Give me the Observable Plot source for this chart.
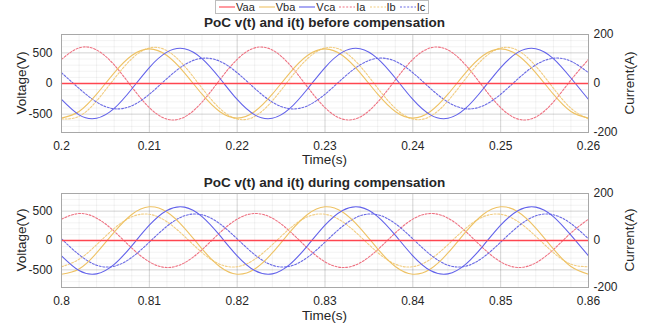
<!DOCTYPE html>
<html><head><meta charset="utf-8">
<script src="https://cdn.jsdelivr.net/npm/d3@7"></script>
<script src="https://cdn.jsdelivr.net/npm/@observablehq/plot@0.6"></script>
<style>
body{margin:0;background:#fff;}
#wrap{position:relative;width:655px;height:328px;font-family:"Liberation Sans",Arial,sans-serif;overflow:hidden;background:#fff;color:#262626;}
.lbl{position:absolute;white-space:nowrap;line-height:1;transform:translate(-50%,-50%);}
.rot{transform:translate(-50%,-50%) rotate(-90deg);}
.ttl{font-weight:bold;font-size:13.5px;}
.ax{font-size:13.5px;}
.svgp{position:absolute;left:0;}
#legend{position:absolute;left:215px;top:0;height:12px;border:1px solid #bdbdbd;background:#fff;display:flex;align-items:center;padding:0 3px;font-size:11px;line-height:1;}
#legend .it{display:flex;align-items:center;margin-right:4px;}
#legend .it:last-child{margin-right:0;}
#legend svg{margin-right:1px;}
</style></head>
<body><div id="wrap"></div>
<script>
// ---------- data ----------
const seriesNames = ["Vaa", "Vba", "Vca", "Ia", "Ib", "Ic"];
const panelTitles = ["PoC v(t) and i(t) before compensation", "PoC v(t) and i(t) during compensation"];

const tTop = [0.200,0.202,0.204,0.206,0.208,0.210,0.212,0.214,0.216,0.218,0.220,0.222,0.224,0.226,0.228,0.230,0.232,0.234,0.236,0.238,0.240,0.242,0.244,0.246,0.248,0.250,0.252,0.254,0.256,0.258,0.260];
const tBot = [0.800,0.802,0.804,0.806,0.808,0.810,0.812,0.814,0.816,0.818,0.820,0.822,0.824,0.826,0.828,0.830,0.832,0.834,0.836,0.838,0.840,0.842,0.844,0.846,0.848,0.850,0.852,0.854,0.856,0.858,0.860];

const xTicksTop = [0.20,0.21,0.22,0.23,0.24,0.25,0.26];
const xLabelsTop = ["0.2","0.21","0.22","0.23","0.24","0.25","0.26"];
const xTicksBot = [0.80,0.81,0.82,0.83,0.84,0.85,0.86];
const xLabelsBot = ["0.8","0.81","0.82","0.83","0.84","0.85","0.86"];
const vTicks = [-500, 0, 500];
const vLabels = ["-500", "0", "500"];
const iTicks = [-200, 0, 200];
const iLabels = ["-200", "0", "200"];

// before compensation (V and A)
const vaaTop = [0,0,0,0,0,0,0,0,0,0,0,0,0,0,0,0,0,0,0,0,0,0,0,0,0,0,0,0,0,0,0];
const vbaTop = [-565,-457,-175,175,457,565,457,175,-175,-457,-565,-457,-175,175,457,565,457,175,-175,-457,-565,-457,-175,175,457,565,457,175,-175,-457,-565];
const vcaTop = [-261,-512,-568,-407,-90,261,512,568,407,90,-261,-512,-568,-407,-90,261,512,568,407,90,-261,-512,-568,-407,-90,261,512,568,407,90,-261];
const iaTop = [98.5,145.4,136.8,75.8,-14.0,-98.5,-145.4,-136.8,-75.8,14.0,98.5,145.4,136.8,75.8,-14.0,-98.5,-145.4,-136.8,-75.8,14.0,98.5,145.4,136.8,75.8,-14.0,-98.5,-145.4,-136.8,-75.8,14.0,98.5];
const ibTop = [-145,-134,-71,19,101,145,134,71,-19,-101,-145,-134,-71,19,101,145,134,71,-19,-101,-145,-134,-71,19,101,145,134,71,-19,-101,-145];
const icTop = [44,-20,-76,-103,-91,-44,20,76,103,91,44,-20,-76,-103,-91,-44,20,76,103,91,44,-20,-76,-103,-91,-44,20,76,103,91,44];

// during compensation (V and A)
const vaaBot = [0,0,0,0,0,0,0,0,0,0,0,0,0,0,0,0,0,0,0,0,0,0,0,0,0,0,0,0,0,0,0];
const vbaBot = [-574,-485,-212,143,443,574,485,212,-143,-443,-574,-485,-212,143,443,574,485,212,-143,-443,-574,-485,-212,143,443,574,485,212,-143,-443,-574];
const vcaBot = [-261,-512,-568,-407,-90,261,512,568,407,90,-261,-512,-568,-407,-90,261,512,568,407,90,-261,-512,-568,-407,-90,261,512,568,407,90,-261];
const iaBot = [90.9,114.9,95.1,39.0,-32.1,-90.9,-114.9,-95.1,-39.0,32.1,90.9,114.9,95.1,39.0,-32.1,-90.9,-114.9,-95.1,-39.0,32.1,90.9,114.9,95.1,39.0,-32.1,-90.9,-114.9,-95.1,-39.0,32.1,90.9];
const ibBot = [-111.6,-79.9,-17.7,51.3,100.7,111.6,79.9,17.7,-51.3,-100.7,-111.6,-79.9,-17.7,51.3,100.7,111.6,79.9,17.7,-51.3,-100.7,-111.6,-79.9,-17.7,51.3,100.7,111.6,79.9,17.7,-51.3,-100.7,-111.6];
const icBot = [7.1,-60.5,-105.1,-109.5,-72.0,-7.1,60.5,105.1,109.5,72.0,7.1,-60.5,-105.1,-109.5,-72.0,-7.1,60.5,105.1,109.5,72.0,7.1,-60.5,-105.1,-109.5,-72.0,-7.1,60.5,105.1,109.5,72.0,7.1];

// ---------- styles ----------
const colors = {Vaa:"#ff4650", Vba:"#eec264", Vca:"#6262ea", Ia:"#ee7282", Ib:"#f2cd82", Ic:"#6a6ae4"};
const dashes = {Vaa:null, Vba:null, Vca:null, Ia:"2,1.6", Ib:"2,1.6", Ic:"2,1.6"};
const FONT = '"Liberation Sans", Arial, sans-serif';
const V_PER_A = 4; // right axis: 200 A spans the same height as 800 V

function panel(t, data, xTicks, xLabels, height, mt, mb) {
  const x0 = xTicks[0], x1 = xTicks[xTicks.length - 1];
  const minorX = d3.range(x0, x1 + 1e-9, 0.002);
  const minorY = d3.range(-800, 801, 100).filter(d => d !== 0);
  const lineMark = (name, vals, isCurrent, w) => Plot.line(vals, {
    x: (d, i) => t[i],
    y: d => isCurrent ? d * V_PER_A : d,
    stroke: colors[name],
    strokeWidth: w,
    strokeDasharray: dashes[name],
    curve: "natural"
  });
  return Plot.plot({
    width: 655, height,
    marginLeft: 61, marginRight: 67, marginTop: mt, marginBottom: mb,
    x: {domain: [x0, x1]},
    y: {domain: [-800, 800]},
    style: {fontFamily: FONT, fontSize: "12px", color: "#262626", background: "white", overflow: "visible"},
    marks: [
      Plot.gridX(minorX, {stroke: "#000", strokeOpacity: 0.05}),
      Plot.gridY(minorY, {stroke: "#000", strokeOpacity: 0.05}),
      Plot.gridX(xTicks, {stroke: "#000", strokeOpacity: 0.13}),
      Plot.gridY(vTicks.filter(d => d !== 0), {stroke: "#000", strokeOpacity: 0.13}),
      lineMark("Ia", data.ia, true, 1.1),
      lineMark("Ib", data.ib, true, 1.1),
      lineMark("Ic", data.ic, true, 1.1),
      lineMark("Vba", data.vba, false, 1.1),
      lineMark("Vca", data.vca, false, 1.1),
      lineMark("Vaa", data.vaa, false, 1.3),
      Plot.frame({stroke: "#a8a8a8"}),
      Plot.axisX(xTicks, {anchor: "bottom", tickSize: 0, tickPadding: 9, label: null,
        tickFormat: d => xLabels[xTicks.indexOf(d)], fontSize: 12}),
      Plot.axisY(vTicks, {anchor: "left", tickSize: 0, tickPadding: 9, label: null,
        tickFormat: d => vLabels[vTicks.indexOf(d)], fontSize: 12}),
      Plot.axisY(iTicks.map(d => d * V_PER_A), {anchor: "right", tickSize: 0, tickPadding: 5, label: null,
        tickFormat: d => iLabels[iTicks.indexOf(d / V_PER_A)], fontSize: 12})
    ]
  });
}

const wrap = document.getElementById("wrap");

const p1 = panel(tTop, {vaa: vaaTop, vba: vbaTop, vca: vcaTop, ia: iaTop, ib: ibTop, ic: icTop},
  xTicksTop, xLabelsTop, 165, 34, 33);
p1.classList.add("svgp"); p1.style.top = "0px";
wrap.appendChild(p1);

const p2 = panel(tBot, {vaa: vaaBot, vba: vbaBot, vca: vcaBot, ia: iaBot, ib: ibBot, ic: icBot},
  xTicksBot, xLabelsBot, 163, 28, 41);
p2.classList.add("svgp"); p2.style.top = "165px";
wrap.appendChild(p2);

function label(text, x, y, cls) {
  const d = document.createElement("div");
  d.className = "lbl " + cls;
  d.style.left = x + "px"; d.style.top = y + "px";
  d.textContent = text;
  wrap.appendChild(d);
}
label(panelTitles[0], 324.5, 23, "ttl");
label(panelTitles[1], 324.5, 183, "ttl");
label("Time(s)", 324.5, 160, "ax");
label("Time(s)", 324.5, 316, "ax");
label("Voltage(V)", 22, 83, "ax rot");
label("Voltage(V)", 22, 240, "ax rot");
label("Current(A)", 630, 83, "ax rot");
label("Current(A)", 630, 240, "ax rot");

// legend
const lg = document.createElement("div");
lg.id = "legend";
seriesNames.forEach(n => {
  const it = document.createElement("div");
  it.className = "it";
  it.innerHTML = `<svg width="16" height="6"><line x1="0" y1="3" x2="16" y2="3" stroke="${colors[n]}" stroke-width="1.1" ${dashes[n] ? `stroke-dasharray="${dashes[n]}"` : ""}/></svg><span>${n}</span>`;
  lg.appendChild(it);
});
wrap.appendChild(lg);
</script>
</body></html>
